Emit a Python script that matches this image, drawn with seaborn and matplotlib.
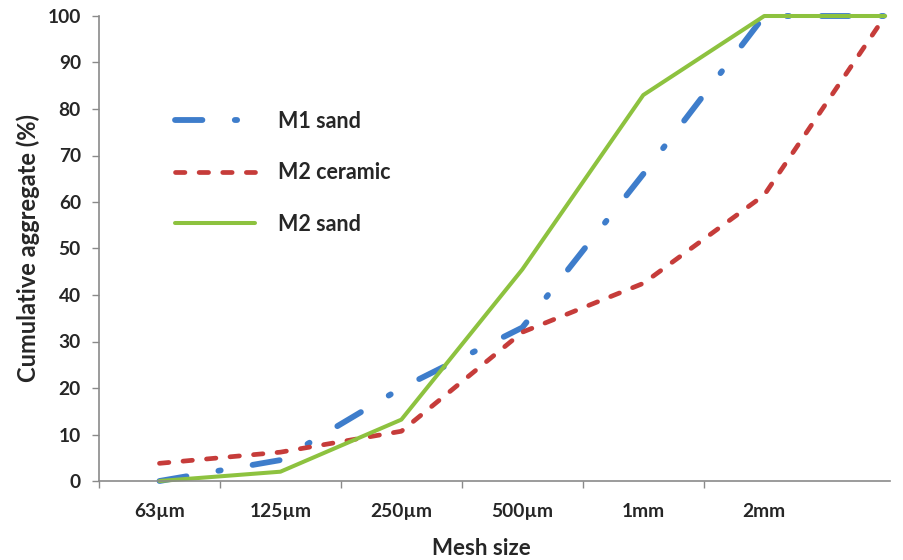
import pandas as pd
import matplotlib
matplotlib.use("Agg")
import matplotlib.pyplot as plt
import seaborn as sns

# dados (% acumulado por peneira)
malhas = ["63µm", "125µm", "250µm", "500µm", "1mm", "2mm", ""]
m1_areia = [0, 4.5, 20, 33, 66, 100, 100]
m2_ceramica = [3.8, 6.2, 10.7, 32, 42.5, 61.5, 100]
m2_areia = [0, 2, 13.2, 45.5, 83, 100, 100]

cor_azul = "#3E7DCB"
cor_vermelha = "#C63C3A"
cor_verde = "#8DC23F"
cinza = "#8A8A8A"

posicoes = list(range(len(malhas)))
df = pd.DataFrame({"pos": posicoes, "M1 sand": m1_areia,
                   "M2 ceramic": m2_ceramica, "M2 sand": m2_areia})

sns.set_theme(style="white")
plt.rcParams["font.family"] = ["Lato", "DejaVu Sans"]

fig = plt.figure(figsize=(9.04, 5.6), dpi=100)
ax = fig.add_axes([99 / 904, 1 - 481 / 560, 791 / 904, 465 / 560])

sns.lineplot(data=df, x="pos", y="M1 sand", ax=ax, color=cor_azul, lw=4.2,
             linestyle=(0, (4.7, 5.55, 0.4, 5.55)), dash_capstyle="round",
             label="M1 sand", errorbar=None, clip_on=False)
sns.lineplot(data=df, x="pos", y="M2 ceramic", ax=ax, color=cor_vermelha, lw=3.4,
             linestyle=(0, (2, 3)), dash_capstyle="round",
             label="M2 ceramic", errorbar=None, clip_on=False)
sns.lineplot(data=df, x="pos", y="M2 sand", ax=ax, color=cor_verde, lw=2.9,
             label="M2 sand", errorbar=None, clip_on=False)

ax.set_xlim(-0.5, 6.04)
ax.set_ylim(0, 100)
ax.set_yticks(range(0, 101, 10))

# ticks nas divisoes e rotulos no centro das categorias
ax.set_xticks([p - 0.5 for p in posicoes[:-1]])
ax.set_xticklabels([])
ax.set_xticks(posicoes, minor=True)
ax.set_xticklabels(malhas, minor=True)
ax.tick_params(axis="x", which="major", length=5, width=1, color=cinza, direction="out", bottom=True)
ax.tick_params(axis="x", which="minor", length=0, pad=16, labelsize=13.8)
ax.tick_params(axis="y", length=5, width=1, color=cinza, direction="out", left=True, pad=8, labelsize=13.8)
for lbl in ax.get_xticklabels(minor=True) + ax.get_yticklabels():
    lbl.set_fontweight("bold")

for lado in ["top", "right"]:
    ax.spines[lado].set_visible(False)
for lado in ["left", "bottom"]:
    ax.spines[lado].set_color(cinza)
    ax.spines[lado].set_linewidth(1.2)

ax.set_xlabel("Mesh size", fontsize=16, fontweight="bold")
ax.xaxis.set_label_coords(0.483, -0.122)
ax.set_ylabel("Cumulative aggregate (%)", fontsize=17, fontweight="bold")
ax.yaxis.set_label_coords(-0.074, 0.5)

leg = ax.legend(loc="upper left", bbox_to_anchor=(0.072, 0.838), frameon=False,
                fontsize=15.5, handlelength=3.7, handletextpad=1.05, labelspacing=1.42)
for t in leg.get_texts():
    t.set_fontweight("bold")

plt.savefig("out.png", dpi=100)
